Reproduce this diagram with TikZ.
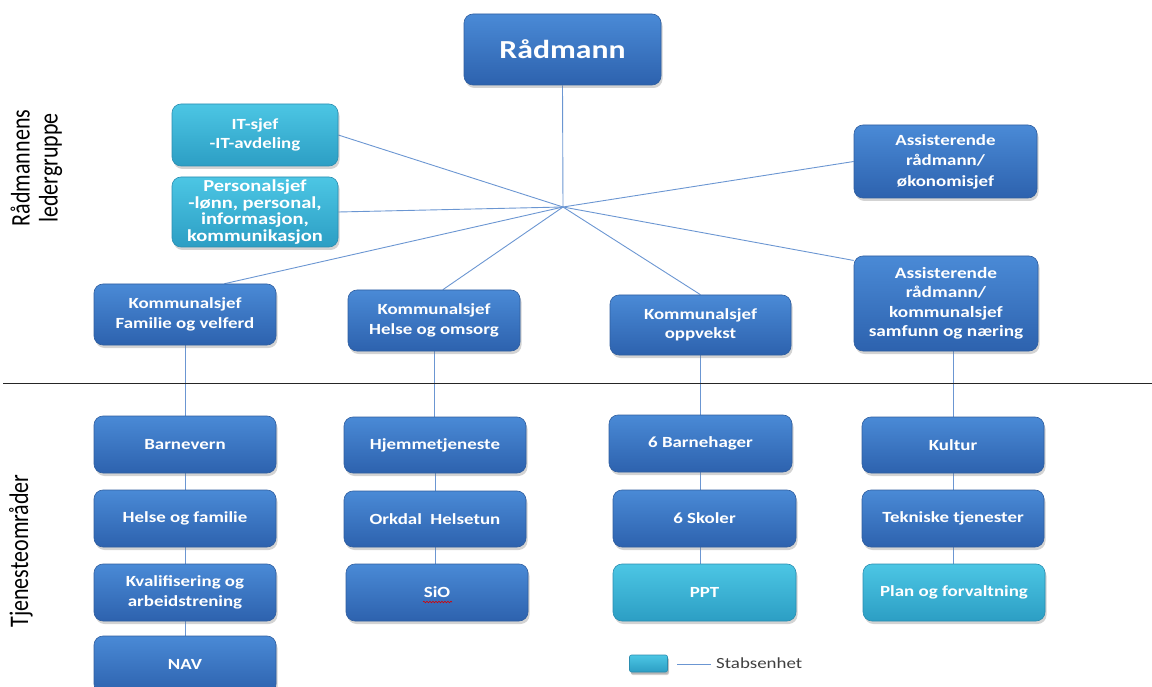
\documentclass[tikz,border=0pt]{standalone}
\usepackage{fontspec}
\usepackage{graphicx}
\setmainfont{Carlito}
\newfontfamily\boxfont[FakeStretch=1.22]{Carlito}
\usetikzlibrary{shadows,backgrounds,decorations.pathmorphing}
\definecolor{bTop}{HTML}{4A8AD6}
\definecolor{bBot}{HTML}{2D62AE}
\definecolor{bEdge}{HTML}{2F5E9F}
\definecolor{cTop}{HTML}{4CC6E4}
\definecolor{cBot}{HTML}{2C9EC4}
\definecolor{cEdge}{HTML}{2A8DB0}
\definecolor{conn}{HTML}{6B96D2}
\definecolor{legtext}{HTML}{404040}
\tikzset{
  orgbox/.style={rectangle, rounded corners=9pt, draw=bEdge, line width=0.6pt,
    top color=bTop, bottom color=bBot, text=white, align=center,
    font=\boxfont\bfseries\fontsize{15.5}{19.5}\selectfont, inner sep=2pt,
    drop shadow={shadow xshift=1.5pt, shadow yshift=-3pt, opacity=0.35}},
  staff/.style={orgbox, draw=cEdge, top color=cTop, bottom color=cBot},
  conline/.style={draw=conn, line width=0.9pt},
  sidelabel/.style={rotate=90, font=\fontsize{22}{23}\selectfont, text=black, inner sep=0pt},
}
\begin{document}
\begin{tikzpicture}[x=1pt, y=-1pt]
\useasboundingbox (0,0) rectangle (1152,687);
% top
\node[orgbox, minimum width=197pt, minimum height=71pt, font=\boxfont\bfseries\fontsize{26}{30}\selectfont] (radmann) at (562.5,49.5) {Rådmann};
\node[staff, minimum width=166pt, minimum height=62pt] (it) at (255,135) {IT-sjef\\-IT-avdeling};
\node[staff, minimum width=166pt, minimum height=70pt, inner sep=0pt, font=\boxfont\bfseries\fontsize{16.8}{16.5}\selectfont] (pers) at (255,212) {Personalsjef\\-lønn, personal,\\informasjon,\\kommunikasjon};
\node[orgbox, minimum width=183pt, minimum height=73pt, font=\boxfont\bfseries\fontsize{15.5}{20.5}\selectfont] (ass1) at (945.5,161.5) {Assisterende\\rådmann/\\økonomisjef};
\node[orgbox, minimum width=184pt, minimum height=95pt, font=\boxfont\bfseries\fontsize{15.8}{19.5}\selectfont] (ass2) at (946,303.5) {Assisterende\\rådmann/\\kommunalsjef\\samfunn og næring};
\node[orgbox, minimum width=182pt, minimum height=61pt] (k1) at (185,314.5) {Kommunalsjef\\Familie og velferd};
\node[orgbox, minimum width=172pt, minimum height=61pt] (k2) at (434,320.5) {Kommunalsjef\\Helse og omsorg};
\node[orgbox, minimum width=181pt, minimum height=60pt] (k3) at (700.5,325) {Kommunalsjef\\oppvekst};
% lower columns
\node[orgbox, minimum width=182pt, minimum height=57pt] (b1) at (185,444.5) {Barnevern};
\node[orgbox, minimum width=182pt, minimum height=57pt] (b2) at (185,518.5) {Helse og familie};
\node[orgbox, minimum width=182pt, minimum height=57pt] (b3) at (185,592.5) {Kvalifisering og\\arbeidstrening};
\node[orgbox, minimum width=182pt, minimum height=57pt] (b4) at (185,664.5) {NAV};
\node[orgbox, minimum width=182pt, minimum height=56pt] (h1) at (435,445) {Hjemmetjeneste};
\node[orgbox, minimum width=182pt, minimum height=56pt] (h2) at (435,519) {Orkdal\ \ Helsetun};
\node[orgbox, minimum width=182pt, minimum height=57pt] (h3) at (437,592.5) {SiO};
\node[orgbox, minimum width=183pt, minimum height=57pt] (o1) at (700.5,443.5) {6 Barnehager};
\node[orgbox, minimum width=183pt, minimum height=57pt] (o2) at (704.5,518.5) {6 Skoler};
\node[staff, minimum width=183pt, minimum height=57pt] (o3) at (704.5,592.5) {PPT};
\node[orgbox, minimum width=182pt, minimum height=56pt] (s1) at (953,445) {Kultur};
\node[orgbox, minimum width=182pt, minimum height=57pt] (s2) at (953,518.5) {Tekniske tjenester};
\node[staff, minimum width=182pt, minimum height=57pt] (s3) at (954,592.5) {Plan og forvaltning};
% spell-check underline
\draw[red!85!black, line width=0.6pt, decorate, decoration={snake, amplitude=0.8pt, segment length=3pt}] (423,602) -- (452,602);
% side labels
\node[sidelabel] (lbl1) at (38,168) {\scalebox{1}[1.22]{\begin{tabular}{@{}c@{}}Rådmannens\\ledergruppe\end{tabular}}};
\node[sidelabel] (lbl2) at (21,551) {\scalebox{1}[1.22]{Tjenesteområder}};
% divider
\coordinate (divL) at (3,383);
\coordinate (divR) at (1152,383);
\draw[black!85, line width=0.8pt] (divL) -- (divR);
% legend
\node[staff, rounded corners=2pt, minimum width=38pt, minimum height=17pt, inner sep=0pt, drop shadow={shadow xshift=1pt, shadow yshift=-2pt, opacity=0.35}] (legbox) at (648.5,663.5) {};
\coordinate (legA) at (677,664);
\coordinate (legB) at (711,664);
\draw[conline] (legA) -- (legB);
\node[anchor=west, inner sep=0pt, text=legtext, font=\boxfont\fontsize{15.5}{17}\selectfont] (legtxt) at (716,663) {Stabsenhet};
% connectors
\coordinate (hub) at (563,207);
\begin{scope}[on background layer]
\draw[conline] (radmann.south) -- (hub);
\draw[conline] (hub) -- (it.east);
\draw[conline] (hub) -- (pers.east);
\draw[conline] (hub) -- (ass1.west);
\draw[conline] (hub) -- (ass2.155);
\draw[conline] (hub) -- (k1.38);
\draw[conline] (hub) -- (k2.74);
\draw[conline] (hub) -- (k3.north);
\draw[conline] (k1.south) -- (b1.north);
\draw[conline] (b1.south) -- (b2.north);
\draw[conline] (b2.south) -- (b3.north);
\draw[conline] (b3.south) -- (b4.north);
\draw[conline] (k2.south) -- (k2.south |- h1.north);
\draw[conline] (h1.south) -- (h2.north);
\draw[conline] (h2.south) -- (h2.south |- h3.north);
\draw[conline] (k3.south) -- (o1.north);
\draw[conline] (o1.south) -- (o1.south |- o2.north);
\draw[conline] (o1.south |- o2.south) -- (o1.south |- o3.north);
\draw[conline] (s1.north) -- (s1.north |- ass2.south);
\draw[conline] (s1.south) -- (s2.north);
\draw[conline] (s2.south) -- (s2.south |- s3.north);
\end{scope}
\end{tikzpicture}
\end{document}
